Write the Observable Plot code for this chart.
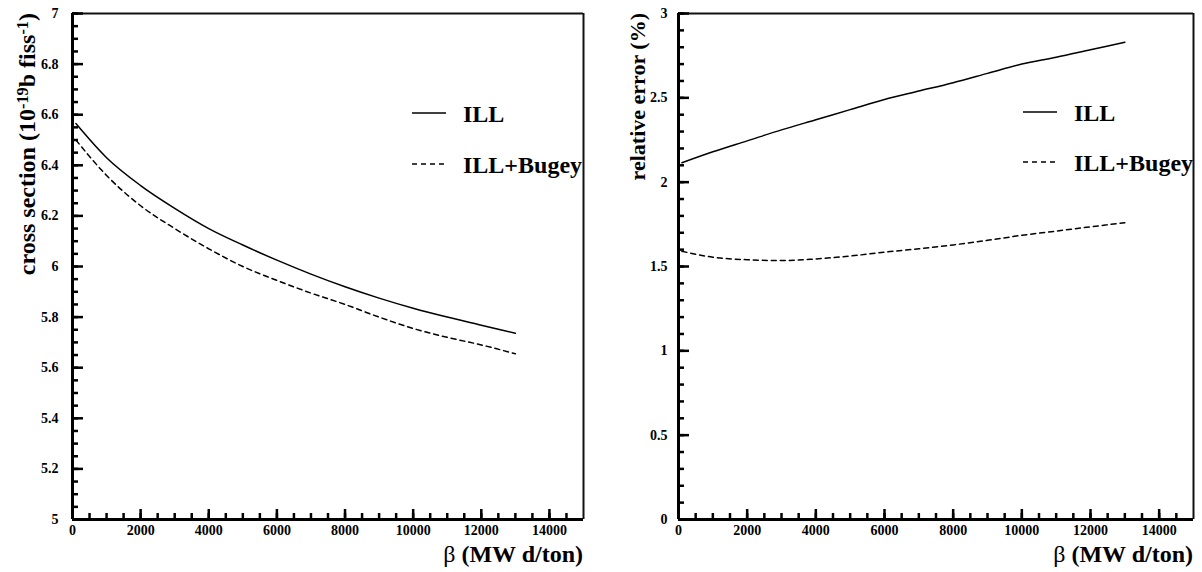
<!DOCTYPE html>
<html>
<head>
<meta charset="utf-8">
<script src="https://cdn.jsdelivr.net/npm/d3@7"></script>
<script src="https://cdn.jsdelivr.net/npm/@observablehq/plot@0.6"></script>
<style>
  body { margin: 0; background: white; }
  #row { display: flex; flex-direction: row; width: 1202px; height: 572px; }
  svg { display: block; }
</style>
</head>
<body>
<div id="row"></div>
<script>
// ---- data ----
const beta = [100, 1000, 2000, 3000, 4000, 5000, 6000, 7000, 8000, 9000, 10000, 11000, 12000, 13000];
const xsecILL      = [6.565, 6.43, 6.32, 6.23, 6.15, 6.085, 6.025, 5.97, 5.92, 5.875, 5.835, 5.80, 5.768, 5.736];
const xsecILLBugey = [6.50, 6.36, 6.24, 6.15, 6.07, 6.00, 5.945, 5.895, 5.85, 5.80, 5.755, 5.72, 5.69, 5.655];
const errILL       = [2.115, 2.18, 2.245, 2.31, 2.37, 2.43, 2.49, 2.54, 2.59, 2.645, 2.70, 2.74, 2.785, 2.83];
const errILLBugey  = [1.59, 1.555, 1.54, 1.535, 1.545, 1.562, 1.585, 1.605, 1.628, 1.655, 1.685, 1.71, 1.735, 1.76];

const seriesNames = ["ILL", "ILL+Bugey"];
const xTicks = [0, 2000, 4000, 6000, 8000, 10000, 12000, 14000];
const xMinor = d3.range(0, 15000, 500);
const leftYTicks = [5, 5.2, 5.4, 5.6, 5.8, 6, 6.2, 6.4, 6.6, 6.8, 7];
const leftYMinor = d3.range(5, 7.0001, 0.05);
const rightYTicks = [0, 0.5, 1, 1.5, 2, 2.5, 3];
const rightYMinor = d3.range(0, 3.0001, 0.1);
const xDomain = [0, 15000];
const leftYDomain = [5, 7];
const rightYDomain = [0, 3];

const FONT = "'Liberation Serif', 'Times New Roman', serif";
const HEIGHT = 572, MT = 13, MB = 53;

function rows(ys) { return beta.map((b, i) => ({ b, v: ys[i] })); }

function panel({ width, marginLeft, marginRight, yDomain, yTicks, yMinor, ySeries, tickPadding }) {
  const y0 = yDomain[0], y1 = yDomain[1];
  const fw = width - marginLeft - marginRight;   // frame width (px)
  const fh = HEIGHT - MT - MB;                    // frame height (px)
  return Plot.plot({
    width, height: HEIGHT,
    marginTop: MT, marginBottom: MB, marginLeft, marginRight,
    style: { fontFamily: FONT, fontSize: "14px", fontWeight: "bold", background: "white", color: "black", overflow: "visible" },
    x: { domain: xDomain },
    y: { domain: yDomain },
    marks: [
      Plot.ruleY([y1], { stroke: "#111", strokeWidth: 2 }),
      Plot.ruleX([xDomain[1]], { stroke: "#111", strokeWidth: 2 }),
      // inward ticks: tick marks shortened by insets
      Plot.tickY(yMinor, { y: d => d, insetRight: fw - 6, stroke: "black", strokeWidth: 2.5 }),
      Plot.tickY(yTicks, { y: d => d, insetRight: fw - 11, stroke: "black", strokeWidth: 2.5 }),
      Plot.tickX(xMinor, { x: d => d, insetTop: fh - 6, stroke: "black", strokeWidth: 2.5 }),
      Plot.tickX(xTicks, { x: d => d, insetTop: fh - 10, stroke: "black", strokeWidth: 2.5 }),
      Plot.ruleX([xDomain[0]], { stroke: "black", strokeWidth: 3 }),
      Plot.ruleY([y0], { stroke: "black", strokeWidth: 3 }),
      // tick labels
      Plot.axisX({ ticks: xTicks, tickSize: 0, tickPadding: 6, tickFormat: d => String(d), label: null, fontWeight: "bold" }),
      Plot.axisY({ ticks: yTicks, tickSize: 0, tickPadding, tickFormat: d => String(d), label: null, fontWeight: "bold" }),
      // curves
      Plot.line(rows(ySeries[0]), { x: "b", y: "v", stroke: "black", strokeWidth: 1.5, curve: "monotone-x" }),
      Plot.line(rows(ySeries[1]), { x: "b", y: "v", stroke: "black", strokeWidth: 1.5, strokeDasharray: "5,4", curve: "monotone-x" })
    ]
  });
}

const row = document.getElementById("row");
const left = panel({ width: 600, marginLeft: 72, marginRight: 17, yDomain: leftYDomain, yTicks: leftYTicks, yMinor: leftYMinor, ySeries: [xsecILL, xsecILLBugey], tickPadding: 14 });
row.appendChild(left);
const right = panel({ width: 602, marginLeft: 78, marginRight: 9, yDomain: rightYDomain, yTicks: rightYTicks, yMinor: rightYMinor, ySeries: [errILL, errILLBugey], tickPadding: 11 });
row.appendChild(right);

function decorate(svgNode, { xTitleX, yTitleX, yTitleSize, yTitleParts, legend }) {
  const s = d3.select(svgNode);
  const g = s.append("g").attr("font-family", FONT).attr("font-weight", "bold").attr("fill", "black").attr("text-anchor", "start");
  // x title
  const xt = g.append("text").attr("x", xTitleX).attr("y", 562).attr("text-anchor", "end").attr("font-size", 24);
  xt.append("tspan").attr("font-weight", "normal").text("β");
  xt.append("tspan").text(" (MW d/ton)");
  // y title (rotated)
  const yt = g.append("text").attr("transform", `translate(${yTitleX},13) rotate(-90)`).attr("text-anchor", "end").attr("font-size", yTitleSize);
  let back = 0;
  for (const p of yTitleParts) {
    if (p.sup) {
      yt.append("tspan").attr("dy", "-0.45em").attr("font-size", "0.68em").text(p.t);
      back = 0.306;
    } else {
      const t = yt.append("tspan").text(p.t);
      if (back) { t.attr("dy", back + "em"); back = 0; }
    }
  }
  // legend
  const [lx0, lx1, tx, ys] = legend;
  seriesNames.forEach((name, i) => {
    g.append("line").attr("x1", lx0).attr("x2", lx1).attr("y1", ys[i]).attr("y2", ys[i])
      .attr("stroke", "black").attr("stroke-width", 1.5)
      .attr("stroke-dasharray", i === 0 ? null : "5,4");
    g.append("text").attr("x", tx).attr("y", ys[i] + 9).attr("font-size", 24).attr("text-anchor", "start").text(name);
  });
}

decorate(left, {
  xTitleX: 583, yTitleX: 35, yTitleSize: 24,
  yTitleParts: [{ t: "cross section (10" }, { t: "-19", sup: true }, { t: "b fiss" }, { t: "-1", sup: true }, { t: ")" }],
  legend: [412, 446, 463, [113, 164]]
});
decorate(right, {
  xTitleX: 593, yTitleX: 45, yTitleSize: 22,
  yTitleParts: [{ t: "relative error (%)" }],
  legend: [423, 457, 474, [112, 162]]
});
</script>
</body>
</html>
